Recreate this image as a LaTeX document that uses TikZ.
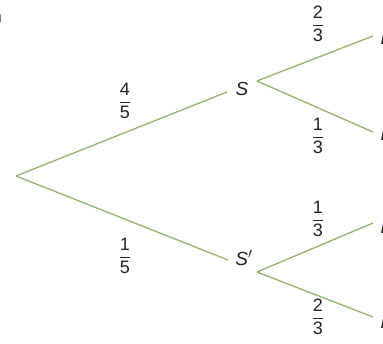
\documentclass[tikz,border=0pt]{standalone}
\usepackage{amsmath}
\usepackage{fontspec}
\setmainfont{Liberation Sans}
\definecolor{branch}{RGB}{142,182,108}
\definecolor{ink}{RGB}{35,35,40}
\newcommand{\fr}[2]{$\dfrac{\text{#1}}{\text{#2}}$}
\tikzset{
  br/.style={draw=branch, line width=1.3pt},
  lbl/.style={text=ink, inner sep=0pt, font=\fontsize{19}{22}\selectfont},
  prob/.style={text=ink, inner sep=0pt, font=\fontsize{18}{21}\selectfont},
}
\begin{document}
\begin{tikzpicture}[x=1pt,y=-1pt]
\useasboundingbox (0,0) rectangle (383,344);
\fill[white] (0,0) rectangle (383,344);
% root and junctions
\coordinate (root) at (16,176);
\node[lbl] (S) at (242,89) {\textit{S}};
\node[lbl] (Sp) at (244,258) {\textit{S}$'$};
\coordinate (Sin) at (227,92);
\coordinate (Sout) at (257,81);
\coordinate (Spin) at (228,260);
\coordinate (Spout) at (257,272);
% leaves
\coordinate (L1) at (373,36);
\coordinate (L2) at (373,132);
\coordinate (L3) at (373,223);
\coordinate (L4) at (373,317);
\node[lbl, anchor=west] (T1) at (380.5,38) {\textit{D}};
\node[lbl, anchor=west] (T2) at (380.5,134) {\textit{D}};
\node[lbl, anchor=west] (T3) at (380.5,227) {\textit{D}};
\node[lbl, anchor=west] (T4) at (380.5,322) {\textit{D}};
\node[text=ink, font=\fontsize{17}{20}\selectfont, anchor=east, inner sep=0pt] (cut) at (2,18) {n};
% branches
\draw[br] (root) -- (Sin);
\draw[br] (root) -- (Spin);
\draw[br] (Sout) -- (L1);
\draw[br] (Sout) -- (L2);
\draw[br] (Spout) -- (L3);
\draw[br] (Spout) -- (L4);
% probabilities
\node[prob] (p1) at (125,101) {\fr{4}{5}};
\node[prob] (p2) at (125,256) {\fr{1}{5}};
\node[prob] (p3) at (318,24) {\fr{2}{3}};
\node[prob] (p4) at (318,136) {\fr{1}{3}};
\node[prob] (p5) at (318,219) {\fr{1}{3}};
\node[prob] (p6) at (318,317) {\fr{2}{3}};
\end{tikzpicture}
\end{document}
